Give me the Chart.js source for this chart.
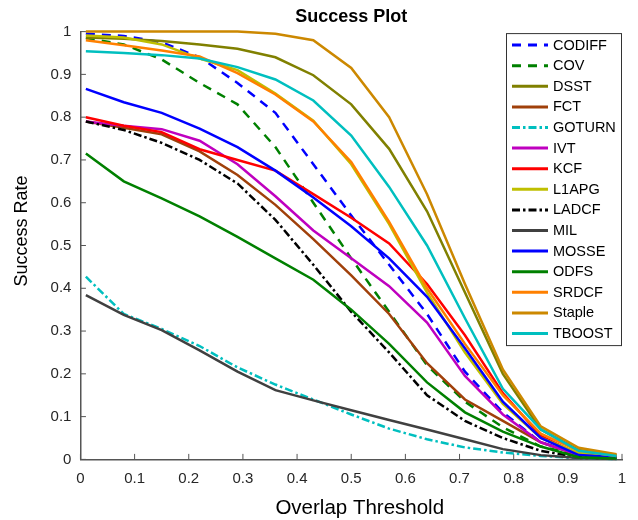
<!DOCTYPE html>
<html>
<head>
<meta charset="utf-8">
<script src="https://cdn.jsdelivr.net/npm/chart.js@4.4.1/dist/chart.umd.min.js"></script>
<style>
  body { margin: 0; background: #fff; }
  canvas { display: block; }
</style>
</head>
<body>
<canvas id="chart" width="638" height="520"></canvas>
<script>
// overlap thresholds at which each tracker's success rate was sampled
const thresholds = [0.01, 0.08, 0.15, 0.22, 0.29, 0.36, 0.43, 0.5, 0.57, 0.64, 0.71, 0.78, 0.85, 0.92, 0.99];

const codiff = [0.995, 0.99, 0.975, 0.94, 0.88, 0.81, 0.69, 0.57, 0.455, 0.34, 0.205, 0.11, 0.04, 0.012, 0.005];
const cov = [0.985, 0.97, 0.935, 0.88, 0.83, 0.73, 0.6, 0.47, 0.345, 0.22, 0.135, 0.075, 0.03, 0.01, 0.005];
const dsst = [0.986, 0.983, 0.978, 0.97, 0.96, 0.94, 0.898, 0.83, 0.726, 0.58, 0.39, 0.2, 0.07, 0.022, 0.01];
const fct = [0.79, 0.775, 0.76, 0.72, 0.665, 0.595, 0.515, 0.43, 0.34, 0.225, 0.14, 0.09, 0.04, 0.01, 0.005];
const goturn = [0.427, 0.34, 0.305, 0.265, 0.215, 0.175, 0.14, 0.105, 0.072, 0.047, 0.028, 0.016, 0.008, 0.003, 0.001];
const ivt = [0.79, 0.78, 0.772, 0.745, 0.69, 0.615, 0.535, 0.47, 0.405, 0.32, 0.195, 0.105, 0.04, 0.01, 0.005];
const kcf = [0.8, 0.78, 0.765, 0.725, 0.7, 0.675, 0.62, 0.565, 0.505, 0.41, 0.29, 0.155, 0.055, 0.012, 0.005];
const l1apg = [0.991, 0.986, 0.97, 0.937, 0.91, 0.855, 0.792, 0.69, 0.55, 0.39, 0.25, 0.13, 0.05, 0.015, 0.005];
const ladcf = [0.79, 0.77, 0.74, 0.7, 0.645, 0.56, 0.455, 0.345, 0.25, 0.15, 0.09, 0.05, 0.02, 0.005, 0.002];
const mil = [0.384, 0.338, 0.302, 0.255, 0.205, 0.162, 0.138, 0.115, 0.092, 0.07, 0.047, 0.024, 0.01, 0.003, 0.001];
const mosse = [0.866, 0.835, 0.81, 0.773, 0.73, 0.675, 0.612, 0.545, 0.47, 0.38, 0.26, 0.135, 0.05, 0.01, 0.005];
const odfs = [0.715, 0.65, 0.61, 0.568, 0.52, 0.47, 0.42, 0.35, 0.27, 0.18, 0.11, 0.065, 0.03, 0.005, 0.002];
const srdcf = [0.98, 0.968, 0.956, 0.942, 0.903, 0.853, 0.79, 0.695, 0.555, 0.4, 0.27, 0.15, 0.06, 0.02, 0.008];
const staple = [1.0, 1.0, 1.0, 1.0, 1.0, 0.995, 0.98, 0.915, 0.8, 0.62, 0.41, 0.21, 0.077, 0.027, 0.012];
const tboost = [0.954, 0.95, 0.945, 0.937, 0.917, 0.888, 0.839, 0.757, 0.637, 0.5, 0.33, 0.165, 0.07, 0.02, 0.008];

const axisTicks = [0, 0.1, 0.2, 0.3, 0.4, 0.5, 0.6, 0.7, 0.8, 0.9, 1];

const TITLE = "Success Plot";
const X_TITLE = "Overlap Threshold";
const Y_TITLE = "Success Rate";

const DASH = [9, 7];
const DASHDOT = [8, 3, 2.5, 3];

// name, values, colour, dash pattern
const series = [
	["CODIFF", codiff, "#0000ff", DASH],
	["COV", cov, "#008000", DASH],
	["DSST", dsst, "#808000", []],
	["FCT", fct, "#a0400a", []],
	["GOTURN", goturn, "#00bfbf", DASHDOT],
	["IVT", ivt, "#bf00bf", []],
	["KCF", kcf, "#ff0000", []],
	["L1APG", l1apg, "#bfbf00", []],
	["LADCF", ladcf, "#000000", DASHDOT],
	["MIL", mil, "#404040", []],
	["MOSSE", mosse, "#0000ff", []],
	["ODFS", odfs, "#008000", []],
	["SRDCF", srdcf, "#ff8000", []],
	["Staple", staple, "#cc8800", []],
	["TBOOST", tboost, "#00bfbf", []],
];

const FONT = "'Liberation Sans', Arial, sans-serif";
const AXIS_COLOR = "#555555";
const HIDDEN = "rgba(0,0,0,0)"; // titles reserve layout space, text painted by axisTexts

const datasets = series.map(([name, values, color, dash], i) => ({
	label: name,
	data: thresholds.map((t, k) => ({ x: t, y: values[k] })),
	borderColor: color,
	backgroundColor: color,
	borderDash: dash,
	borderWidth: 2.5,
	pointRadius: 0,
	tension: 0,
	fill: false,
	clip: false,
	order: series.length - i, // later series painted on top, like the original
}));

// MATLAB-style ticks pointing into the plot
const inwardTicks = {
	id: "inwardTicks",
	beforeDatasetsDraw(chart) {
		const { ctx, chartArea, scales } = chart;
		const len = 5.5;
		ctx.save();
		ctx.strokeStyle = AXIS_COLOR;
		ctx.lineWidth = 1;
		axisTicks.forEach((v) => {
			const x = scales.x.getPixelForValue(v);
			ctx.beginPath();
			ctx.moveTo(x, chartArea.bottom);
			ctx.lineTo(x, chartArea.bottom - len);
			ctx.stroke();
			const y = scales.y.getPixelForValue(v);
			ctx.beginPath();
			ctx.moveTo(chartArea.left, y);
			ctx.lineTo(chartArea.left + len, y);
			ctx.stroke();
		});
		ctx.restore();
	},
};

// title and axis labels, placed relative to the axes like the original
const axisTexts = {
	id: "axisTexts",
	afterDraw(chart) {
		const { ctx, chartArea } = chart;
		const cx = (chartArea.left + chartArea.right) / 2;
		const cy = (chartArea.top + chartArea.bottom) / 2;
		ctx.save();
		ctx.fillStyle = "#000000";
		ctx.textAlign = "center";
		ctx.textBaseline = "middle";
		ctx.font = "bold 18px " + FONT;
		ctx.fillText(TITLE, cx, 17.5);
		ctx.font = "20.5px " + FONT;
		ctx.fillText(X_TITLE, cx + 8.5, 508);
		ctx.translate(22.5, cy - 14.5);
		ctx.rotate(-Math.PI / 2);
		ctx.font = "18px " + FONT;
		ctx.fillText(Y_TITLE, 0, 0);
		ctx.restore();
	},
};

// boxed legend in the top-right corner of the axes
const boxLegend = {
	id: "boxLegend",
	afterDraw(chart) {
		const { ctx, chartArea } = chart;
		const left = chartArea.right - 116;
		const top = chartArea.top + 1.5;
		const rowH = 20.6;
		const height = 312;
		ctx.save();
		ctx.fillStyle = "#ffffff";
		ctx.fillRect(left, top, 116, height);
		ctx.strokeStyle = "#333333";
		ctx.lineWidth = 1;
		ctx.setLineDash([]);
		ctx.strokeRect(left + 0.5, top + 0.5, 115, height);
		ctx.font = "14.5px " + FONT;
		ctx.textBaseline = "middle";
		chart.data.datasets.forEach((ds, i) => {
			const y = top + 12 + i * rowH;
			ctx.strokeStyle = ds.borderColor;
			ctx.lineWidth = 3;
			ctx.setLineDash(ds.borderDash || []);
			ctx.beginPath();
			ctx.moveTo(left + 6, y);
			ctx.lineTo(left + 42, y);
			ctx.stroke();
			ctx.setLineDash([]);
			ctx.fillStyle = "#000000";
			ctx.fillText(ds.label, left + 47, y + 0.5);
		});
		ctx.restore();
	},
};

new Chart(document.getElementById("chart"), {
	type: "line",
	data: { datasets: datasets },
	plugins: [inwardTicks, axisTexts, boxLegend],
	options: {
		responsive: false,
		animation: false,
		layout: { padding: { left: 6, right: 16, top: 0, bottom: 0 } },
		plugins: {
			legend: { display: false },
			tooltip: { enabled: false },
			title: {
				display: true,
				text: TITLE,
				color: HIDDEN,
				font: { family: FONT, size: 18, weight: "bold" },
				padding: { top: 7, bottom: 3 },
			},
		},
		scales: {
			x: {
				type: "linear",
				min: 0,
				max: 1,
				afterBuildTicks: (scale) => {
					scale.ticks = axisTicks.map((v) => ({ value: v }));
				},
				grid: { display: false, drawTicks: false },
				border: { display: true, color: AXIS_COLOR, width: 1.5 },
				ticks: {
					color: "#262626",
					font: { family: FONT, size: 15 },
					padding: 10.5,
					maxRotation: 0,
					callback: (v) => String(+v.toFixed(1)),
				},
				title: {
					display: true,
					text: X_TITLE,
					color: HIDDEN,
					font: { family: FONT, size: 18 },
					padding: { top: 0, bottom: 0 },
				},
			},
			y: {
				type: "linear",
				min: 0,
				max: 1,
				afterBuildTicks: (scale) => {
					scale.ticks = axisTicks.map((v) => ({ value: v }));
				},
				grid: { display: false, drawTicks: false },
				border: { display: true, color: AXIS_COLOR, width: 1.5 },
				ticks: {
					color: "#262626",
					font: { family: FONT, size: 15 },
					padding: 9,
					callback: (v) => String(+v.toFixed(1)),
				},
				title: {
					display: true,
					text: Y_TITLE,
					color: HIDDEN,
					font: { family: FONT, size: 18 },
					padding: { top: 7, bottom: 7 },
				},
			},
		},
	},
});
</script>
</body>
</html>
